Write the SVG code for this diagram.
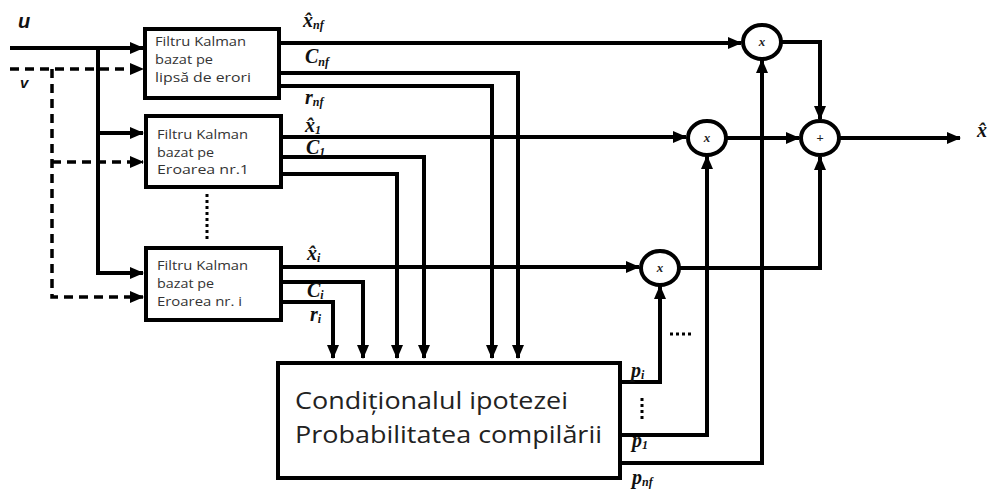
<svg xmlns="http://www.w3.org/2000/svg" width="993" height="490" viewBox="0 0 993 490">
<style>
.box{fill:#fff;stroke:#000;stroke-width:4}
.op{fill:#fff;stroke:#000;stroke-width:4}
.w{fill:none;stroke:#000;stroke-width:4;marker-end:url(#ah)}
.d{fill:none;stroke:#000;stroke-width:3.5;stroke-dasharray:9 6;marker-end:url(#ah)}
.dots{fill:none;stroke:#000;stroke-width:3;stroke-dasharray:3 3}
.bt{font-family:"Open Sans","Liberation Sans",sans-serif;font-size:12px;fill:#333}
.big{font-family:"Open Sans","Liberation Sans",sans-serif;font-size:23px;fill:#222}
.lb{font-family:"Liberation Serif","DejaVu Serif",serif;font-style:italic;font-weight:bold;font-size:20px;fill:#111}
.sub{font-size:12px}
.opt{font-family:"Liberation Serif",serif;font-style:italic;font-weight:bold;font-size:13px;fill:#222}
.io{font-family:"Liberation Sans",sans-serif;font-style:italic;font-weight:bold;fill:#111}
</style>
<defs>
<marker id="ah" markerUnits="userSpaceOnUse" markerWidth="14" markerHeight="12" refX="13" refY="6" orient="auto">
<path d="M0,0 L14,6 L0,12 z" fill="#000"/>
</marker>
</defs>

<g id="connectors">
<path class="w" d="M10,48 H143"/>
<path class="w" d="M98,48 V273 H143"/>
<path class="w" d="M98,133 H143"/>
<path class="d" d="M10,69 H143"/>
<path class="d" d="M52,69 V297 H143"/>
<path class="d" d="M52,162 H143"/>
<path class="w" d="M280,43 H741"/>
<path class="w" d="M280,73 H518 V358"/>
<path class="w" d="M280,86 H492 V358"/>
<path class="w" d="M282,137 H686"/>
<path class="w" d="M282,157 H424 V358"/>
<path class="w" d="M282,174 H397 V358"/>
<path class="w" d="M282,267 H639"/>
<path class="w" d="M282,282 H363 V358"/>
<path class="w" d="M282,302 H333 V358"/>
<path class="w" d="M621,382 H660 V286"/>
<path class="w" d="M621,435 H707 V156"/>
<path class="w" d="M621,463 H762 V60"/>
<path class="w" d="M782,42 H820 V119"/>
<path class="w" d="M727,138 H799"/>
<path class="w" d="M840,138 H960"/>
<path class="w" d="M680,268 H820 V157"/>
<path class="dots" d="M207,194 V240"/>
<path class="dots" d="M642,398 V422"/>
<path class="dots" d="M670,334 H694"/>
</g>

<g id="kf_nf">
<rect class="box" x="145" y="29" width="134" height="69"/>
<text class="bt" x="155" y="46" textLength="91" lengthAdjust="spacingAndGlyphs">Filtru Kalman</text>
<text class="bt" x="155" y="64" textLength="58" lengthAdjust="spacingAndGlyphs">bazat pe</text>
<text class="bt" x="155" y="82" textLength="96" lengthAdjust="spacingAndGlyphs">lipsă de erori</text>
</g>
<g id="kf_1">
<rect class="box" x="146" y="116" width="135" height="71"/>
<text class="bt" x="157" y="139" textLength="91" lengthAdjust="spacingAndGlyphs">Filtru Kalman</text>
<text class="bt" x="157" y="157" textLength="57" lengthAdjust="spacingAndGlyphs">bazat pe</text>
<text class="bt" x="157" y="174" textLength="92" lengthAdjust="spacingAndGlyphs">Eroarea nr.1</text>
</g>
<g id="kf_i">
<rect class="box" x="146" y="248" width="135" height="72"/>
<text class="bt" x="157" y="270" textLength="91" lengthAdjust="spacingAndGlyphs">Filtru Kalman</text>
<text class="bt" x="157" y="288" textLength="57" lengthAdjust="spacingAndGlyphs">bazat pe</text>
<text class="bt" x="157" y="306" textLength="85" lengthAdjust="spacingAndGlyphs">Eroarea nr. i</text>
</g>
<g id="cond">
<rect class="box" x="278" y="363" width="342" height="115"/>
<text class="big" x="295" y="409" textLength="273" lengthAdjust="spacingAndGlyphs">Condiționalul ipotezei</text>
<text class="big" x="295" y="443" textLength="307" lengthAdjust="spacingAndGlyphs">Probabilitatea compilării</text>
</g>

<g id="mul_nf">
<ellipse class="op" cx="762" cy="42" rx="19" ry="17"/>
<text class="opt" x="762" y="46" text-anchor="middle">x</text>
</g>
<g id="mul_1">
<ellipse class="op" cx="707" cy="138" rx="19" ry="17"/>
<text class="opt" x="707" y="142" text-anchor="middle">x</text>
</g>
<g id="sum">
<ellipse class="op" cx="820" cy="138" rx="19" ry="17"/>
<text class="opt" x="820" y="142" text-anchor="middle">+</text>
</g>
<g id="mul_i">
<ellipse class="op" cx="660" cy="268" rx="19" ry="17"/>
<text class="opt" x="660" y="272" text-anchor="middle">x</text>
</g>

<g id="labels">
<text class="io" x="18" y="28" font-size="20">u</text>
<text class="io" x="20" y="88" font-size="15">v</text>
<text class="lb" x="303" y="27" font-size="23">x̂<tspan class="sub" dy="2">nf</tspan></text>
<text class="lb" x="305" y="63" font-size="18">C<tspan class="sub" dy="3">nf</tspan></text>
<text class="lb" x="305" y="104">r<tspan class="sub" dy="2">nf</tspan></text>
<text class="lb" x="305" y="132" font-size="23">x̂<tspan class="sub" dy="2">1</tspan></text>
<text class="lb" x="306" y="154" font-size="18">C<tspan class="sub" dy="2">1</tspan></text>
<text class="lb" x="307" y="260" font-size="23">x̂<tspan class="sub" dy="2">i</tspan></text>
<text class="lb" x="307" y="297" font-size="18">C<tspan class="sub" dy="2">i</tspan></text>
<text class="lb" x="310" y="321">r<tspan class="sub" dy="2">i</tspan></text>
<text class="lb" x="631" y="377">p<tspan class="sub" dy="2">i</tspan></text>
<text class="lb" x="632" y="447">p<tspan class="sub" dy="2">1</tspan></text>
<text class="lb" x="632" y="484">p<tspan class="sub" dy="2">nf</tspan></text>
<text class="lb" x="977" y="137" font-size="23">x̂</text>
</g>
</svg>
